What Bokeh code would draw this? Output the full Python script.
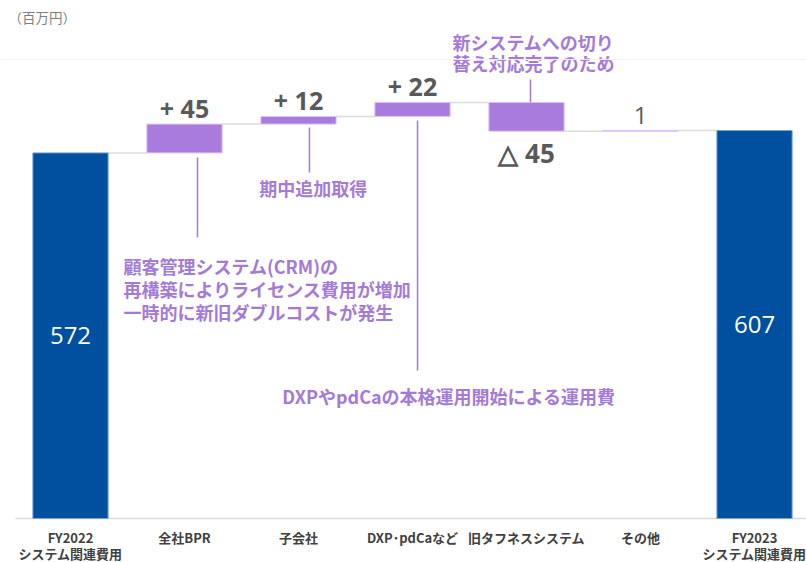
from bokeh.plotting import figure
from bokeh.models import ColumnDataSource, Range1d, Span
from bokeh.core.properties import value
from bokeh.embed import file_html
from bokeh.resources import INLINE

# ---- data ----
cat_line1 = ["FY2022", "全社BPR", "子会社", "DXP･pdCaなど", "旧タフネスシステム", "その他", "FY2023"]
cat_line2 = ["システム関連費用", "", "", "", "", "", "システム関連費用"]
values = [572, 45, 12, 22, -45, 1, 607]
is_total = [True, False, False, False, False, False, True]
value_labels = ["572", "+ 45", "+ 12", "+ 22", "△ 45", "1", "607"]
unit_label = "（百万円）"

BLUE = "#0050a0"
PURPLE = "#a97bdc"
TXT_PURPLE = "#a47ad8"
JP = value("Noto Sans CJK JP")
NUM = value("Open Sans")

# ---- waterfall geometry from data ----
xs = list(range(len(values)))
bottoms, tops, colors, lines = [], [], [], []
run = 0
for v, tot in zip(values, is_total):
    if tot:
        b, t = 0, v
        run = v
        colors.append(BLUE); lines.append("#7fa3d3")
    else:
        b, t = (run, run + v) if v >= 0 else (run + v, run)
        run += v
        colors.append(PURPLE); lines.append("#d9c6f2")
    bottoms.append(b); tops.append(t)
levels = [t if (is_total[i] or values[i] >= 0) else b for i, (b, t) in enumerate(zip(bottoms, tops))]

W = 0.66
p = figure(width=806, height=562, output_backend="svg", toolbar_location=None,
           x_range=Range1d(-0.614, 6.456), y_range=Range1d(-68.8, 810.4),
           min_border=0, outline_line_color=None)
p.axis.visible = False
p.grid.visible = False
p.background_fill_color = "white"
p.border_fill_color = "white"

# faint top line and baseline
p.add_layout(Span(location=718, dimension="width", line_color="#f3f3f3", line_width=1))
p.segment(x0=[-0.482], y0=[0], x1=[6.456], y1=[0], line_color="#d9d9d9", line_width=1.5)

# connectors
cx0, cx1, cy = [], [], []
for i in range(len(values) - 1):
    cx0.append(xs[i] + W / 2); cx1.append(xs[i + 1] - W / 2); cy.append(levels[i])
p.segment(x0=cx0, y0=cy, x1=cx1, y1=cy, line_color="#dcdcdc", line_width=1.5)

src = ColumnDataSource(dict(x=xs, bottom=bottoms, top=tops, color=colors, lc=lines))
p.vbar(x="x", bottom="bottom", top="top", width=W, fill_color="color", line_color="lc",
       line_width=1, source=src)

# value labels
for i, lab in enumerate(value_labels):
    if is_total[i]:
        p.text(x=[xs[i]], y=[(bottoms[i] + tops[i]) / 2], text=[lab], text_color="white",
               text_font=NUM, text_font_size="24px", text_align="center", text_baseline="middle")
    elif values[i] < 0:
        p.text(x=[xs[i]], y=[bottoms[i]], text=[lab], text_color="#595959", text_font=NUM,
               text_font_style="bold", text_font_size="26px", text_align="center",
               text_baseline="middle", y_offset=22)
    elif abs(values[i]) < 5:
        p.text(x=[xs[i]], y=[tops[i]], text=[lab], text_color="#595959", text_font=NUM,
               text_font_size="24px", text_align="center", text_baseline="middle", y_offset=-15)
    else:
        p.text(x=[xs[i]], y=[tops[i]], text=[lab], text_color="#595959", text_font=NUM,
               text_font_style="bold", text_font_size="25px", text_align="center",
               text_baseline="middle", y_offset=-16)

# category labels
p.text(x=xs, y=[-29.7] * len(xs), text=cat_line1, text_color="#404040", text_font=JP,
       text_font_style="bold", text_font_size="13px", text_align="center", text_baseline="middle")
p.text(x=xs, y=[-54.8] * len(xs), text=cat_line2, text_color="#404040", text_font=JP,
       text_font_style="bold", text_font_size="13px", text_align="center", text_baseline="middle")

# unit label
p.text(x=[-0.544], y=[785], text=[unit_label], text_color="#7f7f7f", text_font=JP,
       text_font_size="13.5px", text_align="left", text_baseline="middle")

# annotations: leader lines
p.segment(x0=[1.114, 2.096, 3.044, 4.035], y0=[564.8, 611.7, 622.7, 686.8],
          x1=[1.114, 2.096, 3.044, 4.035], y1=[439.6, 541.3, 231.5, 651],
          line_color=TXT_PURPLE, line_width=1.5)

ann_kw = dict(text_color=TXT_PURPLE, text_font=JP, text_font_style="bold",
              text_font_size="18px", text_baseline="middle")
p.text(x=[0.465] * 3, y=[395.8, 359.8, 323.8],
       text=["顧客管理システム(CRM)の", "再構築によりライセンス費用が増加", "一時的に新旧ダブルコストが発生"],
       text_align="left", **ann_kw)
p.text(x=[2.13], y=[516.3], text=["期中追加取得"], text_align="center", **ann_kw)
p.text(x=[3.32], y=[192.4], text=["DXPやpdCaの本格運用開始による運用費"], text_align="center", **ann_kw)
p.text(x=[3.35] * 2, y=[746.2, 713.4], text=["新システムへの切り", "替え対応完了のため"],
       text_align="left", **ann_kw)

open("out.html", "w").write(file_html(p, INLINE))
